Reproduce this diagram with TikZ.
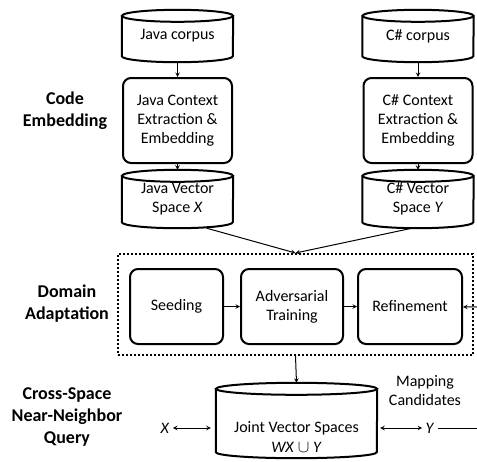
\documentclass[tikz,border=0pt]{standalone}
\usepackage{fontspec}
\setmainfont{Carlito}

% outline of a drum (database) round a named node
\newcommand\drum[2]{%
 \draw[line width=2pt] ([yshift=-6pt]#1.north) ellipse [x radius=#2,y radius=6pt];
 \draw[line width=2pt] ([yshift=-6pt]#1.north west) -- ([yshift=6pt]#1.south west)
  arc[start angle=180,end angle=360,x radius=#2,y radius=6pt]
  -- ([yshift=-6pt]#1.north east);}

\begin{document}
\begin{tikzpicture}[x=1pt,y=-1pt,>=stealth,
 db/.style={align=center,inner sep=0pt,font=\fontsize{16}{19}\selectfont},
 proc/.style={draw,rounded corners=8pt,line width=2pt,align=center,
  inner sep=0pt,font=\fontsize{16}{19}\selectfont},
 txt/.style={align=center,font=\fontsize{16}{19}\selectfont},
 lbl/.style={align=center,font=\bfseries\fontsize{18}{22}\selectfont},
 link/.style={->,line width=1pt}]
 \useasboundingbox (0,0) rectangle (477,461);
 % Java side
 \node[db,minimum width=111pt,minimum height=52pt] (jcorp) at (177.5,36) {Java corpus};
 \drum{jcorp}{55.5pt}
 \node[proc,minimum width=109pt,minimum height=85pt] (jctx) at (177.5,120.5)
  {Java Context\\Extraction \&\\Embedding};
 \node[db,minimum width=111pt,minimum height=58pt] (jvec) at (177.5,199)
  {Java Vector\\Space \textit{X}};
 \drum{jvec}{55.5pt}
 % C# side
 \node[db,minimum width=111pt,minimum height=52pt] (ccorp) at (418,36) {C\# corpus};
 \drum{ccorp}{55.5pt}
 \node[proc,minimum width=109pt,minimum height=85pt] (cctx) at (418,120.5)
  {C\# Context\\Extraction \&\\Embedding};
 \node[db,minimum width=111pt,minimum height=58pt] (cvec) at (418,199)
  {C\# Vector\\Space \textit{Y}};
 \drum{cvec}{55.5pt}
 % adaptation
 \node[draw,dotted,line width=2pt,minimum width=355pt,minimum height=101pt,
  inner sep=0pt] (adapt) at (295.5,304.5) {};
 \node[proc,minimum width=93pt,minimum height=75pt] (seed) at (176.5,306.5) {Seeding};
 \node[proc,minimum width=102pt,minimum height=75pt] (adv) at (292,306.5)
  {Adversarial\\Training};
 \node[proc,minimum width=104pt,minimum height=75pt] (refine) at (410,306.5) {Refinement};
 % query
 \node[db,minimum width=161pt,minimum height=75pt] (joint) at (296.5,420.5) {};
 \drum{joint}{80.5pt}
 \node[txt] (jlbl) at (296.5,437) {Joint Vector Spaces\\[1pt]\textit{WX} $\cup$ \textit{Y}};
 \node[txt] (xq) at (165,428) {\textit{X}};
 \node[txt] (yq) at (430,428) {\textit{Y}};
 \node[txt] (cand) at (425,391) {Mapping\\Candidates};
 \coordinate (yend) at (477,428);
 \coordinate (back) at (477,307);
 % stage labels
 \node[lbl] (code) at (65,111) {Code\\Embedding};
 \node[lbl] (dom) at (67,304) {Domain\\Adaptation};
 \node[lbl] (cross) at (67,417) {Cross-Space\\Near-Neighbor\\Query};
 % arrows
 \draw[link] (jcorp.south) -- (jctx.north);
 \draw[link] (jctx.south) -- (jvec.north);
 \draw[link] (ccorp.south) -- (cctx.north);
 \draw[link] (cctx.south) -- (cvec.north);
 \draw[link] (jvec.-45) -- (adapt.north);
 \draw[link] ([xshift=-6pt]cvec.south) -- (adapt.north);
 \draw[link] (seed) -- (adv);
 \draw[link] (adv) -- (refine);
 \draw[link] (back) -- (refine);
 \draw[link] (adapt.south) -- (joint.north);
 \draw[<->,line width=1pt,shorten >=5pt] (xq) -- (xq -| joint.west);
 \draw[<->,line width=1pt,shorten <=3pt] (yq -| joint.east) -- (yq);
 \draw[line width=1pt] (yq) -- (yend);
\end{tikzpicture}
\end{document}
